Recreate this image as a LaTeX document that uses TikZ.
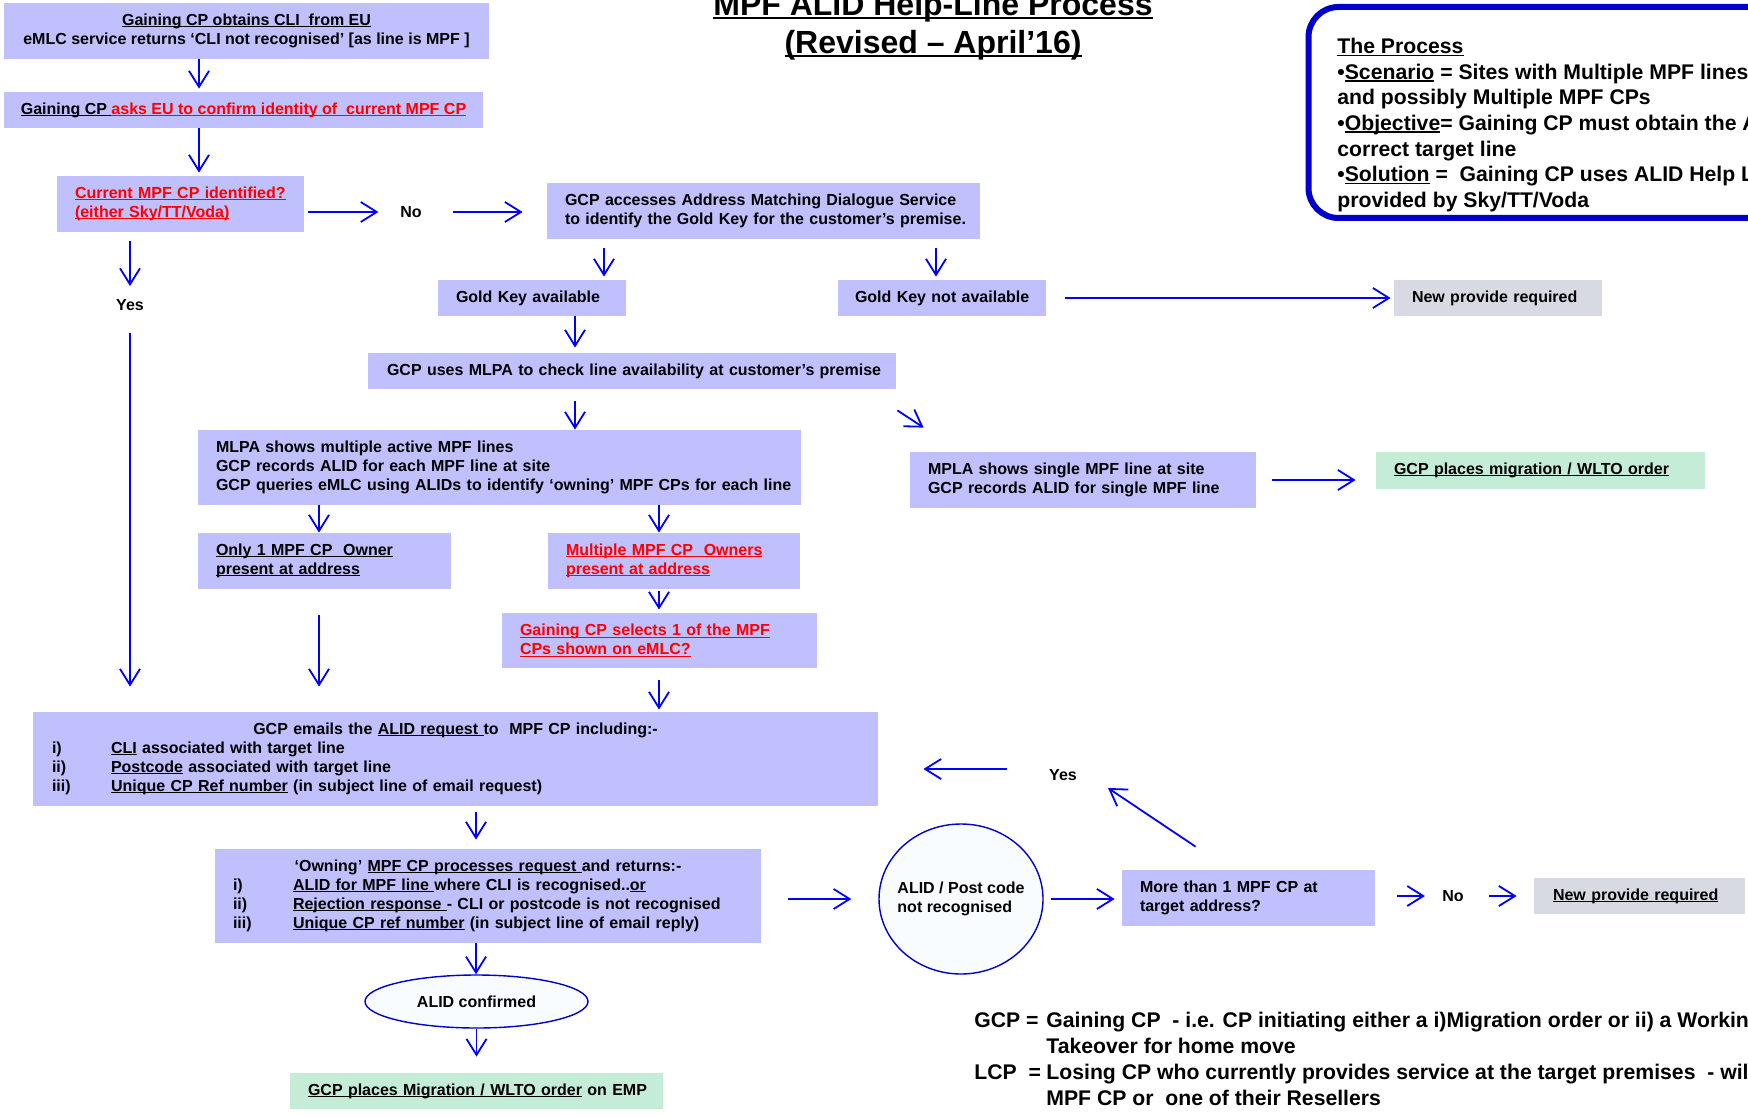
\documentclass[tikz,border=0pt]{standalone}
\usepackage{fontspec}
\setmainfont{Liberation Sans}
\usepackage{tikz}
\usetikzlibrary{arrows.meta,shapes.geometric}
\definecolor{BoxColor}  {RGB}{192,192,255}
\definecolor{MigColor}  {RGB}{196,236,214}
\definecolor{NewColor}  {RGB}{215,218,226}
\definecolor{EllColor}  {RGB}{248,252,255}
\definecolor{ArrColor}  {RGB}{0,0,255}
\definecolor{FrameColor}{RGB}{0,0,200}
\newcommand{\undl}[1]{\leavevmode\setbox0\hbox{#1}\rlap{\rule[-0.11em]{\wd0}{0.07em}}\box0\relax}
\newcommand{\boxfont}{\bfseries\fontsize{8}{9.5}\selectfont}
\begin{document}
\begin{tikzpicture}[x=0.5pt,y=-0.5pt,
  every node/.style={inner sep=0pt,font=\boxfont,align=left},
  box/.style={fill=BoxColor},
  mig/.style={fill=MigColor},
  newp/.style={fill=NewColor},
  ell/.style={ellipse,draw=FrameColor,fill=EllColor,line width=0.7pt,align=center},
  arr/.style={draw=ArrColor,line width=0.9pt,-{Straight Barb[length=8pt,width=10pt]}}]
\useasboundingbox (0,0) rectangle (1748,1117);
\clip (0,0) rectangle (1748,1117);

\node[align=center,font=\bfseries\fontsize{16}{19}\selectfont] (title) at (933,26) {\undl{MPF ALID Help-Line Process}\\\undl{(Revised – April’16)}};
\node[draw=FrameColor,line width=3pt,rounded corners=15pt,minimum width=245.75pt,minimum height=105.5pt] (proc) at (1554.25,112.5) {};
\node[anchor=west,font=\bfseries\fontsize{10.6}{12.8}\selectfont] (proctext) at (1337,125) {\undl{The Process}\\
•\undl{Scenario} = Sites with Multiple MPF lines\\
and possibly Multiple MPF CPs\\
•\undl{Objective}= Gaining CP must obtain the ALID for the\\
correct target line\\
•\undl{Solution} =\ \ Gaining CP uses ALID Help Line\\
provided by Sky/TT/Voda};

\node[box,align=center,minimum width=242.5pt,minimum height=28pt] (obtain) at (246.5,31) {\undl{Gaining CP obtains CLI\ \ from EU}\\eMLC service returns ‘CLI not recognised’ [as line is MPF ]};
\node[box,align=center,minimum width=239.5pt,minimum height=18pt] (confirm) at (243.5,110) {\undl{Gaining CP }\textcolor{red}{\undl{asks EU to confirm identity of\ \ current MPF CP}}};
\node[box,text=red,minimum width=123.5pt,minimum height=28pt,text width=105.5pt] (ident) at (180.5,204) {\undl{Current MPF CP identified?}\\\undl{(either Sky/TT/Voda)}};
\node (no1) at (411,212) {No};
\node (yes1) at (130,305) {Yes};
\node[box,minimum width=216.5pt,minimum height=28pt,text width=198.5pt] (gcpams) at (763.5,211) {\mbox{GCP accesses Address Matching Dialogue Service}\\\mbox{to identify the Gold Key for the customer’s premise.}};
\node[box,minimum width=94pt,minimum height=18pt,text width=76pt] (gkyes) at (532,298) {\mbox{Gold Key available}};
\node[box,minimum width=104pt,minimum height=18pt,text width=87pt] (gkno) at (942,298) {\mbox{Gold Key not available}};
\node[newp,minimum width=104pt,minimum height=18pt,text width=86pt] (newprov1) at (1498,298) {\mbox{New provide required}};
\node[box,minimum width=264pt,minimum height=18pt,text width=245pt] (mlpa) at (632,371) {\mbox{GCP uses MLPA to check line availability at customer’s premise}};
\node[box,minimum width=301.5pt,minimum height=37.5pt,text width=283.5pt] (multi) at (499.5,467.5) {MLPA shows multiple active MPF lines\\GCP records ALID for each MPF line at site\\\mbox{GCP queries eMLC using ALIDs to identify ‘owning’ MPF CPs for each line}};
\node[box,minimum width=126.5pt,minimum height=28pt,text width=108.5pt] (only1) at (324.5,561) {\undl{Only 1 MPF CP\ \ Owner}\\\undl{present at address}};
\node[box,text=red,minimum width=126pt,minimum height=28pt,text width=108pt] (multown) at (674,561) {\undl{Multiple MPF CP\ \ Owners}\\\undl{present at address}};
\node[box,text=red,minimum width=157.5pt,minimum height=27.5pt,text width=139.5pt] (selects) at (659.5,640.5) {\undl{Gaining CP selects 1 of the MPF}\\\undl{CPs shown on eMLC?}};
\node[box,minimum width=173pt,minimum height=28pt,text width=155pt] (single) at (1083,480) {\mbox{MPLA shows single MPF line at site}\\\mbox{GCP records ALID for single MPF line}};
\node[mig,minimum width=164.5pt,minimum height=18.5pt,text width=146.5pt] (mig1) at (1540.5,470.5) {\undl{GCP places migration / WLTO order}};
\node[box,minimum width=422.5pt,minimum height=47pt,text width=403.5pt] (emails) at (455.5,759) {\makebox[403.5pt][c]{GCP emails the \undl{ALID request }to\ \ MPF CP including:-}\\
\makebox[29.5pt][l]{i)}\undl{CLI} associated with target line\\
\makebox[29.5pt][l]{ii)}\undl{Postcode} associated with target line\\
\makebox[29.5pt][l]{iii)}\undl{Unique CP Ref number} (in subject line of email request)};
\node[box,minimum width=273pt,minimum height=47pt,text width=255pt] (owning) at (488,896) {\makebox[255pt][c]{‘Owning’ \undl{MPF CP processes request }and returns:-}\\
\makebox[30pt][l]{i)}\undl{ALID for MPF line }where CLI is recognised..\undl{or}\\
\makebox[30pt][l]{ii)}\undl{Rejection response }- CLI or postcode is not recognised\\
\makebox[30pt][l]{iii)}\undl{Unique CP ref number} (in subject line of email reply)};
\node[ell,minimum width=111.5pt,minimum height=26.5pt] (confirmed) at (476.5,1001.5) {ALID confirmed};
\node[mig,minimum width=186.5pt,minimum height=18pt,text width=168.5pt] (migemp) at (476.5,1091) {\mbox{\undl{GCP places Migration / WLTO order} on EMP}};
\node[ell,minimum width=82pt,minimum height=75pt] (notrec) at (961,899) {\makebox[40pt]{\begin{tabular}{@{}l@{}}ALID / Post code\\not recognised\end{tabular}}};
\node[box,minimum width=126.5pt,minimum height=28pt,text width=108.5pt] (morethan) at (1248.5,898) {More than 1 MPF CP at\\target address?};
\node (no2) at (1453,896) {No};
\node (yes2) at (1063,775) {Yes};
\node[newp,minimum width=105.5pt,minimum height=18pt,text width=86.5pt] (newprov2) at (1639.5,896) {\undl{New provide required}};
\node[anchor=west,font=\bfseries\fontsize{10.6}{13}\selectfont] (legend) at (974,1059) {\makebox[36pt][l]{GCP =}Gaining CP\ \ - i.e. CP initiating either a i)Migration order or ii) a Working Line\\
\makebox[36pt][l]{}Takeover for home move\\
\makebox[36pt][l]{LCP\ \ =}Losing CP who currently provides service at the target premises\ \ - will be either an\\
\makebox[36pt][l]{}MPF CP or\ \ one of their Resellers};

\foreach \n/\x in {laneA/199,laneC/604,laneD/936,laneE/575,laneF/319,laneG/659,laneH/476} \coordinate (\n) at (\x,0);

\draw[arr,shorten >=1.5pt] (obtain.south -| laneA) -- (confirm.north -| laneA);
\draw[arr,shorten >=1.5pt] (confirm.south -| laneA) -- (ident.north -| laneA);
\draw[arr,shorten <=2pt,shorten >=10.75pt] (ident.east |- no1) -- (no1.west);
\draw[arr,shorten <=15.25pt,shorten >=12pt] (no1.east) -- (gcpams.west |- no1.east);
\draw[arr,shorten <=4.5pt,shorten >=6.5pt] (ident.south -| yes1) -- (yes1.north);
\draw[arr,shorten <=11pt,shorten >=12.5pt] (yes1.south) -- (emails.north -| yes1.south);
\draw[arr,shorten <=4.5pt,shorten >=1.5pt] (gcpams.south -| laneC) -- (gkyes.north -| laneC);
\draw[arr,shorten <=4.5pt,shorten >=1.5pt] (gcpams.south -| laneD) -- (gkno.north -| laneD);
\draw[arr,shorten <=9.5pt,shorten >=1.5pt] (gkno.east) -- (newprov1.west);
\draw[arr,shorten >=2.5pt] (gkyes.south -| laneE) -- (mlpa.north -| laneE);
\draw[arr,shorten <=6pt] (mlpa.south -| laneE) -- (multi.north -| laneE);
\draw[arr] ([shift={(1,21)}]mlpa.south east) -- ([shift={(14,-24)}]single.north west);
\draw[arr] (multi.south -| laneF) -- (only1.north -| laneF);
\draw[arr] (multi.south -| laneG) -- (multown.north -| laneG);
\draw[arr,shorten <=1pt,shorten >=1.5pt] (multown.south -| laneG) -- (selects.north -| laneG);
\draw[arr,shorten <=13pt,shorten >=12.5pt] (only1.south -| laneF) -- (emails.north -| laneF);
\draw[arr,shorten <=6pt,shorten >=1pt] (selects.south -| laneG) -- (emails.north -| laneG);
\draw[arr,shorten <=8pt,shorten >=10pt] (single.east) -- (mig1.west |- single.east);
\draw[arr,shorten <=3pt,shorten >=4.5pt] (emails.south -| laneH) -- (owning.north -| laneH);
\draw[arr] (owning.south -| laneH) -- (confirmed.north -| laneH);
\draw[arr,shorten >=8pt] (confirmed.south) -- (migemp.north -| confirmed.south);
\draw[arr,shorten <=13.5pt,shorten >=13.5pt] (owning.east |- notrec.west) -- (notrec.west);
\draw[arr,shorten <=3.5pt,shorten >=3.5pt] (notrec.east) -- (morethan.west |- notrec.east);
\draw[arr,shorten <=11pt,shorten >=8.5pt] (morethan.east |- no2) -- (no2.west);
\draw[arr,shorten <=12.5pt,shorten >=8.5pt] (no2.east) -- (newprov2.west |- no2.east);
\draw[arr] ([shift={(-53,-23)}]morethan.north) -- ([shift={(45,13)}]yes2.center);
\draw[arr,shorten <=21pt,shorten >=22.5pt] (yes2.north west) -- (emails.east |- yes2.north west);
\end{tikzpicture}
\end{document}
